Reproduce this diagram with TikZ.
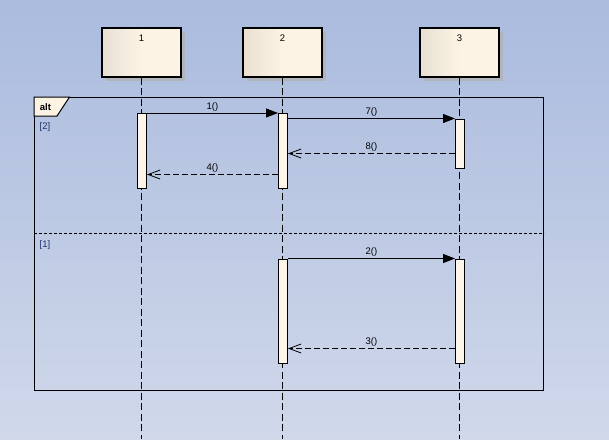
\documentclass[tikz,border=0pt]{standalone}
\usepackage{fontspec}
\setmainfont{Liberation Sans}
\usetikzlibrary{arrows.meta,shadows}
\definecolor{bgtop}{RGB}{170,187,222}
\definecolor{bgbot}{RGB}{208,216,234}
\definecolor{boxl}{RGB}{232,224,210}
\definecolor{boxr}{RGB}{252,243,229}
\definecolor{barfill}{RGB}{253,245,233}
\definecolor{shadowgray}{RGB}{178,180,188}
\definecolor{guardcol}{RGB}{30,50,110}
\begin{document}
\begin{tikzpicture}[x=1pt,y=-1pt,
  font=\fontsize{9.5}{11}\selectfont,
  lifebox/.style={draw=black, line width=1.2pt, minimum width=79pt, minimum height=49pt,
    inner sep=0pt,
    drop shadow={shadow xshift=3.5pt, shadow yshift=-3.5pt, fill=shadowgray, opacity=1},
    path picture={
      \fill[boxr] (path picture bounding box.south west) rectangle (path picture bounding box.north east);
      \shade[left color=boxl,right color=boxr] (path picture bounding box.south west) rectangle (path picture bounding box.north);
    }},
  lifeline/.style={line width=1pt, dash pattern=on 7pt off 3.5pt},
  actbar/.style={draw=black, line width=1pt, fill=barfill, minimum width=9pt, inner sep=0pt, anchor=north},
  callmsg/.style={line width=1pt, -{Triangle[length=12pt,width=9pt]}},
  retmsg/.style={line width=0.9pt, dash pattern=on 6pt off 3pt, -{Straight Barb[length=12pt,width=9pt,line width=0.8pt]}},
  msglabel/.style={above=0.5pt, inner sep=1pt, text=black},
  guardlabel/.style={text=guardcol, inner sep=0pt}
]
\useasboundingbox (0,0) rectangle (609,439);
\shade[top color=bgtop, bottom color=bgbot] (0,0) rectangle (609,439);

% lifeline heads
\node[lifebox] (p1) at (141.5,52.5) {};
\node[lifebox] (p2) at (282.5,52.5) {};
\node[lifebox] (p3) at (459.5,52.5) {};
\node[inner sep=0pt] (p1l) at (141.5,38) {1};
\node[inner sep=0pt] (p2l) at (282.5,38) {2};
\node[inner sep=0pt] (p3l) at (459.5,38) {3};

% lifelines
\coordinate (bottom) at (0,439);
\draw[lifeline] (p1.south) -- (p1.south |- bottom);
\draw[lifeline] (p2.south) -- (p2.south |- bottom);
\draw[lifeline] (p3.south) -- (p3.south |- bottom);

% combined fragment
\node[draw=black, line width=1pt, minimum width=509pt, minimum height=293pt, inner sep=0pt, anchor=north west] (frame) at (34,97) {};
\draw[line width=1pt, fill=boxr] (frame.north west) -- (69.5,97) -- (57,116) -- (34,116) -- cycle;
\node[font=\fontsize{9.5}{11}\selectfont\bfseries, inner sep=0pt] (alt) at (45.5,107) {alt};
\coordinate (divy) at (0,233.5);
\draw[line width=0.9pt, dash pattern=on 3pt off 2pt] (frame.west |- divy) -- (frame.east |- divy);
\node[guardlabel] (g2) at (45,127) {[2]};
\node[guardlabel] (g1) at (45,245.5) {[1]};

% activation bars
\node[actbar, minimum height=75pt] (a1) at (142,113) {};
\node[actbar, minimum height=75pt] (a2) at (283,113) {};
\node[actbar, minimum height=49pt] (a3) at (460,118.5) {};
\node[actbar, minimum height=104pt] (b2) at (283,258.5) {};
\node[actbar, minimum height=104pt] (b3) at (460,258.5) {};

% messages
\draw[callmsg] (a1.north east) -- node[msglabel] {1()} (a2.north west);
\draw[callmsg] (a2.east |- a3.north) -- node[msglabel] {7()} (a3.north west);
\coordinate (m8) at (0,153.5);
\draw[retmsg] (a3.west |- m8) -- node[msglabel] {8()} (a2.east |- m8);
\coordinate (m4) at (0,174.5);
\draw[retmsg] (a2.west |- m4) -- node[msglabel] {4()} (a1.east |- m4);
\draw[callmsg] (b2.north east) -- node[msglabel] {2()} (b3.north west);
\coordinate (m3) at (0,348.5);
\draw[retmsg] (b3.west |- m3) -- node[msglabel] {3()} (b2.east |- m3);
\end{tikzpicture}
\end{document}
